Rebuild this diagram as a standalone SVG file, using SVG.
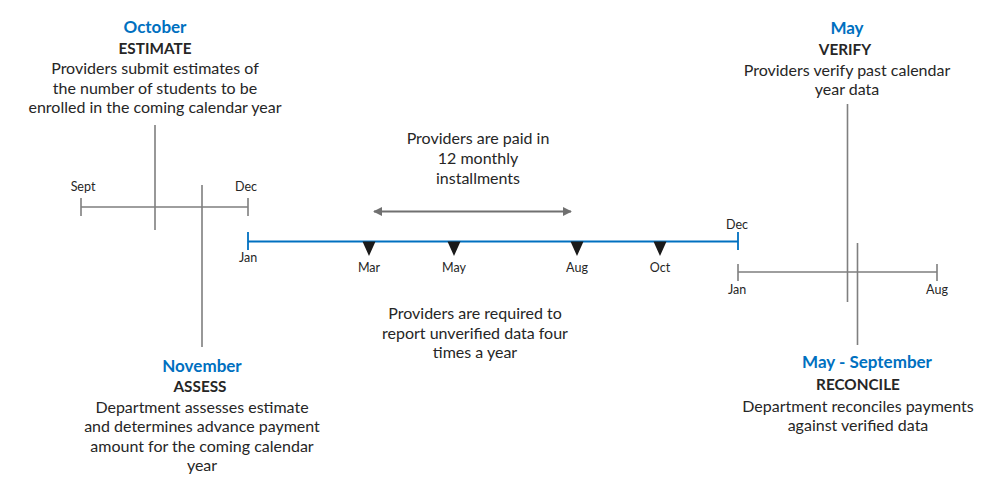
<svg xmlns="http://www.w3.org/2000/svg" width="1002" height="497" viewBox="0 0 1002 497">
<defs>
<style>
text{font-family:Lato,"Open Sans","Liberation Sans",sans-serif;fill:#262626;text-anchor:middle;font-size:16px}
.h{fill:#0070C0;font-weight:bold;font-size:17px}
.b{font-weight:bold;font-size:15.3px}
.s{font-size:12.5px}
.g{stroke:#7f7f7f;stroke-width:1.6;fill:none}
.bl{stroke:#0070C0;stroke-width:1.8;fill:none}
.tri{fill:#1a1a1a}
</style>
<marker id="ah" viewBox="0 0 10 10" refX="9" refY="5" markerWidth="5" markerHeight="5" orient="auto-start-reverse" markerUnits="strokeWidth"><path d="M0,0 L10,5 L0,10 z" fill="#707070"/></marker>
</defs>
<rect width="1002" height="497" fill="#fff"/>
<g id="connectors">
<path class="g" d="M81,207 H248 M81,198 V216 M248,198 V216"/>
<path class="g" d="M155,125 V230 M202,185 V347"/>
<path class="bl" d="M248,241.5 H738 M248,232 V250 M738,232 V250"/>
<path class="g" d="M738,272 H937 M738,264 V281 M937,264 V281"/>
<path class="g" d="M847.5,104 V302 M857.5,243 V345"/>
<path d="M374,211.5 H571" stroke="#707070" stroke-width="1.8" fill="none" marker-start="url(#ah)" marker-end="url(#ah)"/>
<path class="tri" d="M362.5,241.5 H375.5 L369,256 z M447.5,241.5 H460.5 L454,256 z M570.5,241.5 H583.5 L577,256 z M653.5,241.5 H666.5 L660,256 z"/>
</g>
<g id="axis-labels">
<text class="s" x="83" y="191">Sept</text>
<text class="s" x="246" y="191">Dec</text>
<text class="s" x="248" y="262">Jan</text>
<text class="s" x="737" y="229">Dec</text>
<text class="s" x="369" y="272">Mar</text>
<text class="s" x="454" y="272">May</text>
<text class="s" x="577" y="272">Aug</text>
<text class="s" x="660" y="272">Oct</text>
<text class="s" x="737" y="294">Jan</text>
<text class="s" x="937" y="294">Aug</text>
</g>
<g id="estimate">
<text class="h" x="155" y="33">October</text>
<text class="b" x="155" y="54">ESTIMATE</text>
<text x="155" y="74">Providers submit estimates of</text>
<text x="155" y="94">the number of students to be</text>
<text x="155" y="113">enrolled in the coming calendar year</text>
</g>
<g id="paid">
<text x="478" y="144">Providers are paid in</text>
<text x="478" y="164">12 monthly</text>
<text x="478" y="184">installments</text>
</g>
<g id="report">
<text x="475" y="319">Providers are required to</text>
<text x="475" y="339">report unverified data four</text>
<text x="475" y="358">times a year</text>
</g>
<g id="assess">
<text class="h" x="202" y="372">November</text>
<text class="b" x="200" y="392">ASSESS</text>
<text x="202" y="413">Department assesses estimate</text>
<text x="202" y="432">and determines advance payment</text>
<text x="202" y="452">amount for the coming calendar</text>
<text x="202" y="471">year</text>
</g>
<g id="verify">
<text class="h" x="847" y="34">May</text>
<text class="b" x="845" y="55">VERIFY</text>
<text x="847" y="76">Providers verify past calendar</text>
<text x="847" y="95">year data</text>
</g>
<g id="reconcile">
<text class="h" x="867" y="368">May - September</text>
<text class="b" x="858" y="390">RECONCILE</text>
<text x="858" y="412">Department reconciles payments</text>
<text x="858" y="431">against verified data</text>
</g>
</svg>
